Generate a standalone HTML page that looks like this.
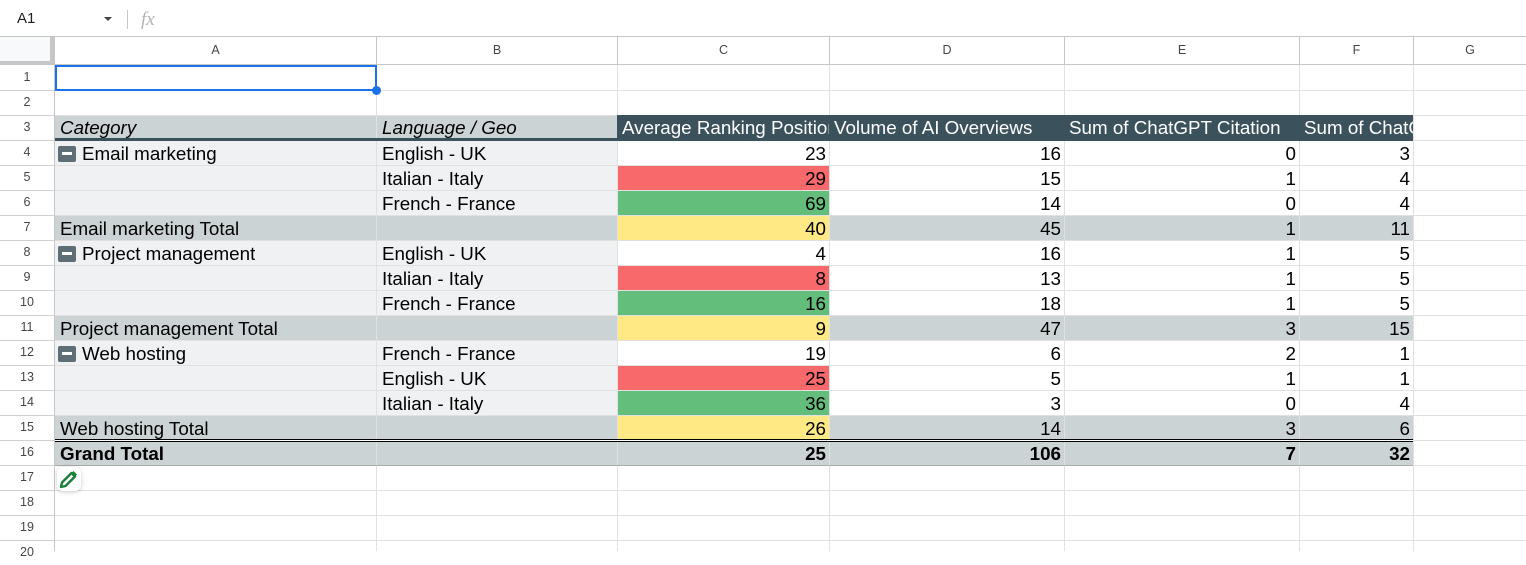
<!DOCTYPE html>
<html>
<head>
<meta charset="utf-8">
<style>
*{margin:0;padding:0;box-sizing:border-box;}
html,body{width:1526px;height:551px;overflow:hidden;background:#fff;font-family:"Liberation Sans",Arial,sans-serif;}
.abs{position:absolute;}
.hl{position:absolute;left:55px;width:1471px;height:1px;background:#e1e1e1;}
.hlr{position:absolute;left:0;width:54px;height:1px;background:#d0d2d2;}
.vl{position:absolute;top:65px;width:1px;height:486px;background:#e1e1e1;}
.vh{position:absolute;top:36px;width:1px;height:29px;background:#c4c7c5;}
.rn{position:absolute;left:0;width:54px;height:25px;line-height:25px;text-align:center;font-size:12.5px;color:#444746;}
.cl{position:absolute;top:36px;height:28px;line-height:28px;text-align:center;font-size:12.5px;color:#444746;}
.c{position:absolute;height:24px;line-height:26px;font-size:18.8px;color:#000;white-space:nowrap;overflow:hidden;}
.f{position:absolute;height:24px;}
.r{text-align:right;padding-right:3px;}
.l{padding-left:5px;}
.A{left:55px;width:321px;}
.B{left:377px;width:240px;}
.C{left:618px;width:211px;}
.D{left:830px;width:234px;}
.E{left:1065px;width:234px;}
.F{left:1300px;width:113px;}
.lt{background:#eff1f2;}
.gy{background:#ccd3d5;}
.rd{background:#f7696b;}
.gn{background:#63be7b;}
.yl{background:#ffe984;}
.mb{position:absolute;left:58px;width:18px;height:16px;background:#5f6d74;border-radius:2px;}
.mb i{position:absolute;left:4px;top:6px;width:10px;height:3px;background:#fff;}
.b{font-weight:bold;}
.hc{padding-left:4px;}
</style>
</head>
<body>
<!-- top bar -->
<div class="abs" style="left:17px;top:11px;font-size:15px;line-height:15px;color:#1f1f1f;">A1</div>
<div class="abs" style="left:104px;top:17px;width:0;height:0;border-left:4px solid transparent;border-right:4px solid transparent;border-top:4px solid #444;"></div>
<div class="abs" style="left:127px;top:10px;width:1px;height:19px;background:#c4c7c5;"></div>
<div class="abs" style="left:141px;top:10px;font-family:'Liberation Serif',serif;font-style:italic;font-size:19px;line-height:19px;color:#b3b3b3;">fx</div>
<div class="abs" style="left:0;top:36px;width:1526px;height:1px;background:#c4c7c5;"></div>

<!-- corner -->
<div class="abs" style="left:0;top:37px;width:54px;height:28px;background:#f8f9fa;"></div>
<div class="abs" style="left:50px;top:37px;width:4px;height:28px;background:#c4c7c5;"></div>
<div class="abs" style="left:0;top:61px;width:54px;height:4px;background:#c4c7c5;"></div>

<!-- column headers -->
<div class="vh" style="left:376px"></div>
<div class="vh" style="left:617px"></div>
<div class="vh" style="left:829px"></div>
<div class="vh" style="left:1064px"></div>
<div class="vh" style="left:1299px"></div>
<div class="vh" style="left:1413px"></div>
<div class="abs" style="left:54px;top:64px;width:1472px;height:1px;background:#c4c7c5;"></div>
<div class="cl" style="left:55px;width:321px">A</div>
<div class="cl" style="left:377px;width:240px">B</div>
<div class="cl" style="left:618px;width:211px">C</div>
<div class="cl" style="left:830px;width:234px">D</div>
<div class="cl" style="left:1065px;width:234px">E</div>
<div class="cl" style="left:1300px;width:113px">F</div>
<div class="cl" style="left:1414px;width:112px">G</div>

<!-- grid lines -->
<div class="hl" style="top:90px"></div><div class="hl" style="top:115px"></div><div class="hl" style="top:140px"></div>
<div class="hl" style="top:165px"></div><div class="hl" style="top:190px"></div><div class="hl" style="top:215px"></div>
<div class="hl" style="top:240px"></div><div class="hl" style="top:265px"></div><div class="hl" style="top:290px"></div>
<div class="hl" style="top:315px"></div><div class="hl" style="top:340px"></div><div class="hl" style="top:365px"></div>
<div class="hl" style="top:390px"></div><div class="hl" style="top:415px"></div><div class="hl" style="top:440px"></div>
<div class="hl" style="top:465px"></div><div class="hl" style="top:490px"></div><div class="hl" style="top:515px"></div>
<div class="hl" style="top:540px"></div>
<div class="hlr" style="top:90px"></div><div class="hlr" style="top:115px"></div><div class="hlr" style="top:140px"></div>
<div class="hlr" style="top:165px"></div><div class="hlr" style="top:190px"></div><div class="hlr" style="top:215px"></div>
<div class="hlr" style="top:240px"></div><div class="hlr" style="top:265px"></div><div class="hlr" style="top:290px"></div>
<div class="hlr" style="top:315px"></div><div class="hlr" style="top:340px"></div><div class="hlr" style="top:365px"></div>
<div class="hlr" style="top:390px"></div><div class="hlr" style="top:415px"></div><div class="hlr" style="top:440px"></div>
<div class="hlr" style="top:465px"></div><div class="hlr" style="top:490px"></div><div class="hlr" style="top:515px"></div>
<div class="hlr" style="top:540px"></div>
<div class="abs" style="left:54px;top:36px;width:1px;height:515px;background:#c4c7c5;"></div>
<div class="vl" style="left:376px"></div><div class="vl" style="left:617px"></div><div class="vl" style="left:829px"></div>
<div class="vl" style="left:1064px"></div><div class="vl" style="left:1299px"></div><div class="vl" style="left:1413px"></div>

<!-- row numbers -->
<div class="rn" style="top:65px">1</div><div class="rn" style="top:90px">2</div><div class="rn" style="top:115px">3</div>
<div class="rn" style="top:140px">4</div><div class="rn" style="top:165px">5</div><div class="rn" style="top:190px">6</div>
<div class="rn" style="top:215px">7</div><div class="rn" style="top:240px">8</div><div class="rn" style="top:265px">9</div>
<div class="rn" style="top:290px">10</div><div class="rn" style="top:315px">11</div><div class="rn" style="top:340px">12</div>
<div class="rn" style="top:365px">13</div><div class="rn" style="top:390px">14</div><div class="rn" style="top:415px">15</div>
<div class="rn" style="top:440px">16</div><div class="rn" style="top:465px">17</div><div class="rn" style="top:490px">18</div>
<div class="rn" style="top:515px">19</div><div class="rn" style="top:540px">20</div>

<!-- Row 3 header -->
<div class="abs gy" style="left:55px;top:116px;width:321px;height:22px;"></div>
<div class="abs gy" style="left:377px;top:116px;width:240px;height:22px;"></div>
<div class="abs" style="left:617px;top:115px;width:796px;height:26px;background:#3b525c;"></div>
<div class="abs" style="left:55px;top:138px;width:1358px;height:3px;background:#3b525c;"></div>
<div class="c A l" style="top:115px;height:23px;font-style:italic;">Category</div>
<div class="c B l" style="top:115px;height:23px;font-style:italic;">Language / Geo</div>
<div class="c C hc" style="top:115px;color:#fff;">Average Ranking Position</div>
<div class="c D hc" style="top:115px;color:#fff;">Volume of AI Overviews</div>
<div class="c E hc" style="top:115px;color:#fff;">Sum of ChatGPT Citation</div>
<div class="c F hc" style="top:115px;color:#fff;">Sum of ChatGPT Mentions</div>

<!-- Row 4 -->
<div class="f A lt" style="top:141px"></div><div class="f B lt" style="top:141px"></div>
<div class="mb" style="top:146px"><i></i></div>
<div class="c" style="left:82px;top:141px;">Email marketing</div>
<div class="c B l" style="top:141px">English - UK</div>
<div class="c C r" style="top:141px">23</div>
<div class="c D r" style="top:141px">16</div>
<div class="c E r" style="top:141px">0</div>
<div class="c F r" style="top:141px">3</div>
<!-- Row 5 -->
<div class="f A lt" style="top:166px"></div><div class="f B lt" style="top:166px"></div>
<div class="c B l" style="top:166px">Italian - Italy</div>
<div class="c C r rd" style="top:166px">29</div>
<div class="c D r" style="top:166px">15</div>
<div class="c E r" style="top:166px">1</div>
<div class="c F r" style="top:166px">4</div>
<!-- Row 6 -->
<div class="f A lt" style="top:191px"></div><div class="f B lt" style="top:191px"></div>
<div class="c B l" style="top:191px">French - France</div>
<div class="c C r gn" style="top:191px">69</div>
<div class="c D r" style="top:191px">14</div>
<div class="c E r" style="top:191px">0</div>
<div class="c F r" style="top:191px">4</div>
<!-- Row 7 -->
<div class="c A l gy" style="top:216px">Email marketing Total</div>
<div class="c B gy" style="top:216px"></div>
<div class="c C r yl" style="top:216px">40</div>
<div class="c D r gy" style="top:216px">45</div>
<div class="c E r gy" style="top:216px">1</div>
<div class="c F r gy" style="top:216px">11</div>

<!-- Row 8 -->
<div class="f A lt" style="top:241px"></div><div class="f B lt" style="top:241px"></div>
<div class="mb" style="top:246px"><i></i></div>
<div class="c" style="left:82px;top:241px;">Project management</div>
<div class="c B l" style="top:241px">English - UK</div>
<div class="c C r" style="top:241px">4</div>
<div class="c D r" style="top:241px">16</div>
<div class="c E r" style="top:241px">1</div>
<div class="c F r" style="top:241px">5</div>
<!-- Row 9 -->
<div class="f A lt" style="top:266px"></div><div class="f B lt" style="top:266px"></div>
<div class="c B l" style="top:266px">Italian - Italy</div>
<div class="c C r rd" style="top:266px">8</div>
<div class="c D r" style="top:266px">13</div>
<div class="c E r" style="top:266px">1</div>
<div class="c F r" style="top:266px">5</div>
<!-- Row 10 -->
<div class="f A lt" style="top:291px"></div><div class="f B lt" style="top:291px"></div>
<div class="c B l" style="top:291px">French - France</div>
<div class="c C r gn" style="top:291px">16</div>
<div class="c D r" style="top:291px">18</div>
<div class="c E r" style="top:291px">1</div>
<div class="c F r" style="top:291px">5</div>
<!-- Row 11 -->
<div class="c A l gy" style="top:316px">Project management Total</div>
<div class="c B gy" style="top:316px"></div>
<div class="c C r yl" style="top:316px">9</div>
<div class="c D r gy" style="top:316px">47</div>
<div class="c E r gy" style="top:316px">3</div>
<div class="c F r gy" style="top:316px">15</div>

<!-- Row 12 -->
<div class="f A lt" style="top:341px"></div><div class="f B lt" style="top:341px"></div>
<div class="mb" style="top:346px"><i></i></div>
<div class="c" style="left:82px;top:341px;">Web hosting</div>
<div class="c B l" style="top:341px">French - France</div>
<div class="c C r" style="top:341px">19</div>
<div class="c D r" style="top:341px">6</div>
<div class="c E r" style="top:341px">2</div>
<div class="c F r" style="top:341px">1</div>
<!-- Row 13 -->
<div class="f A lt" style="top:366px"></div><div class="f B lt" style="top:366px"></div>
<div class="c B l" style="top:366px">English - UK</div>
<div class="c C r rd" style="top:366px">25</div>
<div class="c D r" style="top:366px">5</div>
<div class="c E r" style="top:366px">1</div>
<div class="c F r" style="top:366px">1</div>
<!-- Row 14 -->
<div class="f A lt" style="top:391px"></div><div class="f B lt" style="top:391px"></div>
<div class="c B l" style="top:391px">Italian - Italy</div>
<div class="c C r gn" style="top:391px">36</div>
<div class="c D r" style="top:391px">3</div>
<div class="c E r" style="top:391px">0</div>
<div class="c F r" style="top:391px">4</div>
<!-- Row 15 -->
<div class="c A l gy" style="top:416px;height:23px;">Web hosting Total</div>
<div class="c B gy" style="top:416px;height:23px;"></div>
<div class="c C r yl" style="top:416px;height:23px;">26</div>
<div class="c D r gy" style="top:416px;height:23px;">14</div>
<div class="c E r gy" style="top:416px;height:23px;">3</div>
<div class="c F r gy" style="top:416px;height:23px;">6</div>

<!-- double line -->
<div class="abs" style="left:55px;top:439px;width:1358px;height:1px;background:#000;"></div>
<div class="abs" style="left:55px;top:440px;width:1358px;height:1px;background:#fff;"></div>
<div class="abs" style="left:55px;top:441px;width:1358px;height:1px;background:#000;"></div>

<!-- Row 16 grand total -->
<div class="abs gy" style="left:55px;top:442px;width:321px;height:23px;"></div>
<div class="abs gy" style="left:377px;top:442px;width:240px;height:23px;"></div>
<div class="abs gy" style="left:618px;top:442px;width:211px;height:23px;"></div>
<div class="abs gy" style="left:830px;top:442px;width:234px;height:23px;"></div>
<div class="abs gy" style="left:1065px;top:442px;width:234px;height:23px;"></div>
<div class="abs gy" style="left:1300px;top:442px;width:113px;height:23px;"></div>
<div class="abs" style="left:55px;top:465px;width:1358px;height:1px;background:#a8acad;"></div>
<div class="c A l b" style="top:441px">Grand Total</div>
<div class="c C r b" style="top:441px">25</div>
<div class="c D r b" style="top:441px">106</div>
<div class="c E r b" style="top:441px">7</div>
<div class="c F r b" style="top:441px">32</div>

<!-- selection A1 -->
<div class="abs" style="left:55px;top:65px;width:322px;height:26px;border:2px solid #1a73e8;"></div>
<div class="abs" style="left:372px;top:86px;width:9px;height:9px;border-radius:50%;background:#1a73e8;"></div>

<!-- pencil -->
<div class="abs" style="left:57px;top:467px;width:24px;height:24px;background:#fff;border-radius:6px;box-shadow:0 1px 4px rgba(0,0,0,0.22);">
<svg width="24" height="24" viewBox="0 0 24 24" style="position:absolute;left:0;top:0">
<path d="M4 20 L5 15.5 L14.5 6 L18 9.5 L8.5 19 Z" fill="none" stroke="#188038" stroke-width="2.4" stroke-linejoin="round"/>
<path d="M14.5 6 L16.5 4 L20 7.5 L18 9.5 Z" fill="#188038"/>
</svg>
</div>
</body>
</html>
